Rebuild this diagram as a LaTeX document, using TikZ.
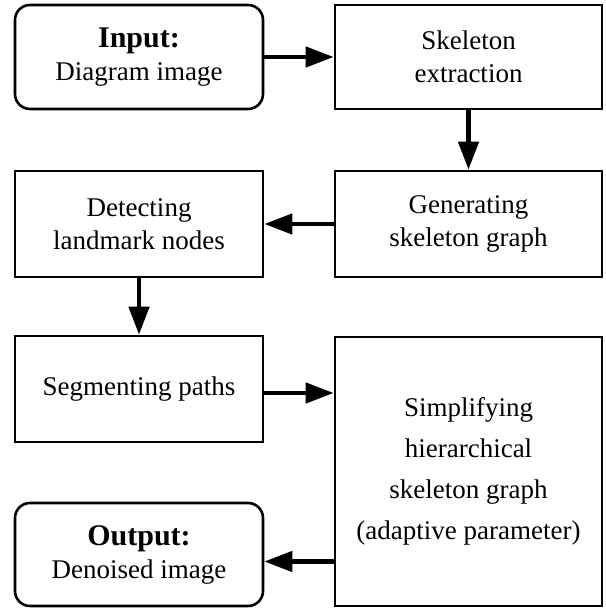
\documentclass[tikz,border=0pt]{standalone}
\usepackage{fontspec}
\setmainfont{Liberation Serif}
\usepackage{tikz}
\usetikzlibrary{arrows.meta,positioning}

\tikzset{
  stepbox/.style={draw, line width=2.6pt, align=center, inner sep=0pt,
    minimum width=248pt, minimum height=106pt,
    font=\fontsize{27}{33}\selectfont},
  widebox/.style={stepbox, minimum width=267pt},
  endbox/.style={stepbox, rounded corners=15pt},
  flow/.style={line width=4.5pt, -{Triangle[length=28pt,width=20pt]}}
}

\begin{document}
\begin{tikzpicture}[x=1pt,y=1pt]
\useasboundingbox (0,0) rectangle (605,609);%画像の大きさ
\node[endbox, minimum height=104pt] (input) at (139,552)
  {{\fontsize{30}{33}\selectfont\bfseries Input:}\\Diagram image};
\node[widebox, minimum height=104pt] (extract) at (468.5,552) {Skeleton\\extraction};
\node[widebox] (graph) at (468.5,385) {Generating\\skeleton graph};
\node[stepbox] (landmark) at (139,385) {Detecting\\landmark nodes};
\node[stepbox] (segment) at (139,220) {Segmenting paths};
\node[widebox, minimum height=269pt, font=\fontsize{27}{41}\selectfont] (simplify) at (468.5,137.5)
  {Simplifying\\hierarchical\\skeleton graph\\(adaptive parameter)};
\node[endbox, minimum height=103pt] (output) at (139,54.5)
  {{\fontsize{30}{33}\selectfont\bfseries Output:}\\Denoised image};
% 矢印
\draw[flow] (input) -- (extract);
\draw[flow] (extract) -- (graph);
\draw[flow] (graph) -- (landmark);
\draw[flow] (landmark) -- (segment);
\draw[flow] ([yshift=-4pt]segment.east) -- ([yshift=-4pt]segment.east -| simplify.west);
\draw[flow] ([yshift=-7pt]output.east -| simplify.west) -- ([yshift=-7pt]output.east);
\end{tikzpicture}
\end{document}
